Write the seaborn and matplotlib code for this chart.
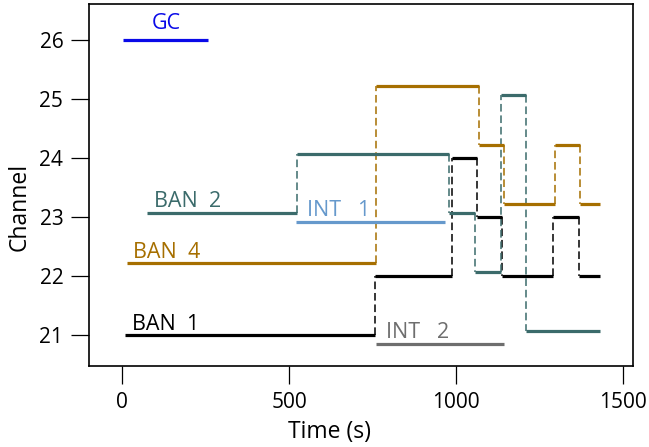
import numpy as np
import pandas as pd
import matplotlib
matplotlib.use("Agg")
import matplotlib.pyplot as plt
import seaborn as sns

# ---------------- data ----------------
ban1_t = [9, 757, 987, 1064, 1137, 1290, 1368]
ban1_end = 1430
ban1_ch = [21, 22, 24, 23, 22, 23, 22]

ban4_t = [14, 760, 1068, 1144, 1295, 1372]
ban4_end = 1430
ban4_ch = [22.22, 25.22, 24.22, 23.22, 24.22, 23.22]

ban2_t = [74, 524, 980, 1057, 1133, 1210]
ban2_end = 1431
ban2_ch = [23.07, 24.07, 23.07, 22.07, 25.07, 21.07]

gc_t = [2, 257]
gc_ch = 26.0
int1_t = [521, 967]
int1_ch = 22.92
int2_t = [760, 1142]
int2_ch = 20.84

labels = ["GC", "BAN  2", "BAN  4", "BAN  1", "INT   1", "INT   2"]
label_t = [87, 94, 31, 29, 553, 790]
label_ch = [26.18, 23.17, 22.30, 21.085, 23.01, 20.95]

colors = {
    "GC": "#0a0ae8",
    "BAN 2": "#3b6b6b",
    "BAN 4": "#a66f00",
    "BAN 1": "#000000",
    "INT 1": "#6699cc",
    "INT 2": "#6e6e6e",
}
label_colors = [colors["GC"], colors["BAN 2"], colors["BAN 4"], colors["BAN 1"],
                colors["INT 1"], colors["INT 2"]]

# ---------------- build segment tables ----------------
h_rows = []
v_rows = []

def add_steps(name, t, end, ch):
    bounds = list(t) + [end]
    for i, level in enumerate(ch):
        seg = f"{name}_h{i}"
        h_rows.append(dict(series=name, seg=seg, t=bounds[i], ch=level))
        h_rows.append(dict(series=name, seg=seg, t=bounds[i + 1], ch=level))
        if i + 1 < len(ch):
            vseg = f"{name}_v{i}"
            v_rows.append(dict(series=name, seg=vseg, t=bounds[i + 1], ch=level))
            v_rows.append(dict(series=name, seg=vseg, t=bounds[i + 1], ch=ch[i + 1]))

add_steps("BAN 1", ban1_t, ban1_end, ban1_ch)
add_steps("BAN 4", ban4_t, ban4_end, ban4_ch)
add_steps("BAN 2", ban2_t, ban2_end, ban2_ch)
for name, tt, c in [("GC", gc_t, gc_ch), ("INT 1", int1_t, int1_ch), ("INT 2", int2_t, int2_ch)]:
    h_rows.append(dict(series=name, seg=name, t=tt[0], ch=c))
    h_rows.append(dict(series=name, seg=name, t=tt[1], ch=c))

hdf = pd.DataFrame(h_rows)
vdf = pd.DataFrame(v_rows)

# ---------------- plot ----------------
sns.set_style("white")
plt.rcParams["font.family"] = ["Open Sans", "DejaVu Sans"]

fig = plt.figure(figsize=(6.49, 4.47), dpi=100)
ax = fig.add_axes([89 / 649, 81 / 447, 544 / 649, 362 / 447])

for name in ["BAN 1", "BAN 4", "BAN 2"]:
    sub = vdf[vdf.series == name]
    sns.lineplot(data=sub, x="t", y="ch", units="seg", estimator=None, sort=False,
                 color=colors[name], lw=1.1, linestyle=(0, (5, 2.5)), ax=ax, legend=False)

for name in ["INT 2", "INT 1", "BAN 1", "BAN 4", "BAN 2", "GC"]:
    sub = hdf[hdf.series == name]
    sns.lineplot(data=sub, x="t", y="ch", units="seg", estimator=None, sort=False,
                 color=colors[name], lw=2.3, solid_capstyle="butt", ax=ax, legend=False)

for txt, tx, ty, c in zip(labels, label_t, label_ch, label_colors):
    ax.text(tx, ty, txt, color=c, fontsize=15.5, ha="left", va="baseline")

ax.set_xlim(-100, 1530)
ax.set_ylim(20.475, 26.61)
ax.set_xticks([0, 500, 1000, 1500])
ax.set_yticks([21, 22, 23, 24, 25, 26])
ax.tick_params(axis="both", direction="out", length=13, width=0.9, pad=5.5,
               labelsize=15, color="black", labelcolor="black",
               bottom=True, left=True)
for sp in ax.spines.values():
    sp.set_linewidth(1.2)
    sp.set_color("black")

ax.set_xlabel("Time (s)", fontsize=16.5, va="center", color="black")
ax.set_ylabel("Channel", fontsize=16.5, va="center", color="black")
ax.xaxis.set_label_coords(0.443, -0.182)
ax.yaxis.set_label_coords(-0.127, 0.44)

fig.savefig("out.png", dpi=100)
